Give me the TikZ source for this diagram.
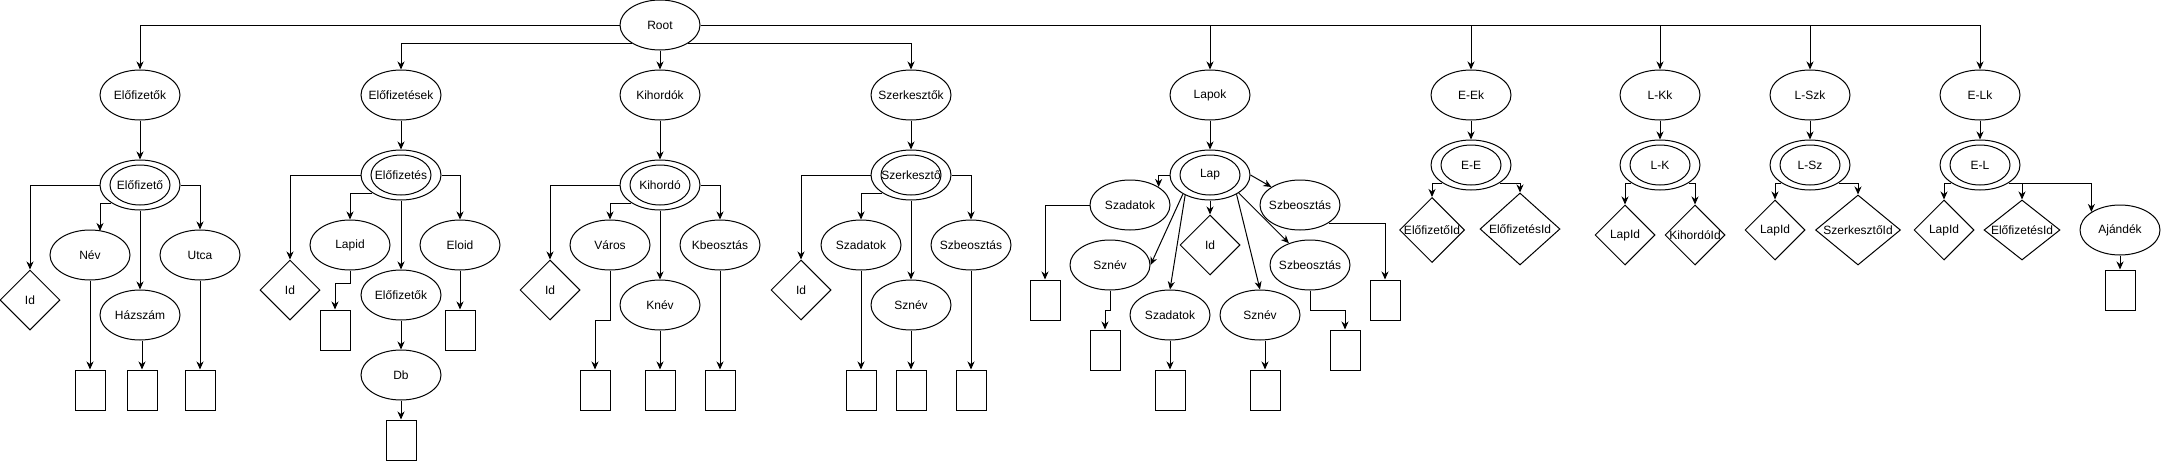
\documentclass[tikz,border=0pt]{standalone}
\usepackage{fontspec}
\setmainfont{Liberation Sans}
\usetikzlibrary{shapes.geometric,arrows.meta,calc}
\newcommand\zwt[1]{\makebox[0pt]{#1}}
\begin{document}
\begin{tikzpicture}[x=1pt,y=-1pt,font=\fontsize{12}{14}\selectfont,line width=1pt,
 ell/.style={ellipse,draw,minimum width=80pt,minimum height=50pt,inner sep=0pt},
 iell/.style={ellipse,draw,minimum width=60pt,minimum height=40pt,inner sep=0pt},
 dia/.style={diamond,draw,minimum width=60pt,minimum height=60pt,inner sep=0pt},
 rbox/.style={draw,minimum width=30pt,minimum height=40pt,inner sep=0pt},
 arr/.style={-{Stealth[length=8pt,width=7pt,inset=2.5pt]}}]
\useasboundingbox (0,0) rectangle (2161,461);
% root
\node[ell] (root) at (660,25) {\zwt{Root}};
% ---------- group 1
\node[ell] (n1) at (140,95) {\zwt{Előfizetők}};
\node[ell] (d1) at (140,185) {};
\node[iell] (d1i) at (140,185) {\zwt{Előfizető}};
\node[dia] (id1) at (30,300) {\zwt{Id}};
\node[ell] (nev1) at (90,255) {\zwt{Név}};
\node[ell] (haz1) at (140,315) {\zwt{Házszám}};
\node[ell] (utca1) at (200,255) {\zwt{Utca}};
\node[rbox] (r1a) at (90,390) {};
\node[rbox] (r1b) at (142,390) {};
\node[rbox] (r1c) at (200,390) {};
\coordinate (nev1t) at (100,231);
\draw[arr] (root.west) -| (n1);
\draw[arr] (n1) -- (d1);
\draw[arr] (d1.west) -| (id1);
\draw[arr] (d1.south west) -| (nev1t);
\draw[arr] (d1.south) -- (haz1.north);
\draw[arr] (d1.east) -| (utca1);
\draw[arr] (nev1) -- (r1a);
\draw[arr] (r1b.north |- haz1.south) -- (r1b.north);
\draw[arr] (utca1) -- (r1c);
% ---------- group 2
\node[ell] (n2) at (401,95) {\zwt{Előfizetések}};
\node[ell] (d2) at (401,175) {};
\node[iell] (d2i) at (401,175) {\zwt{Előfizetés}};
\node[dia] (id2) at (290,290) {\zwt{Id}};
\node[ell] (lapid2) at (350,245) {\zwt{Lapid}};
\node[ell] (eloid2) at (460,245) {\zwt{Eloid}};
\node[ell] (efk2) at (401,295) {\zwt{Előfizetők}};
\node[ell] (db2) at (401,375) {\zwt{Db}};
\node[rbox] (r2a) at (335,330) {};
\node[rbox] (r2b) at (460,330) {};
\node[rbox] (r2c) at (401,440) {};
\draw[arr] (root.213) -| (n2);
\draw[arr] (n2) -- (d2);
\draw[arr] (d2.west) -| (id2);
\draw[arr] (d2.south west) -| (lapid2);
\draw[arr] (d2.east) -| (eloid2);
\draw[arr] (d2) -- (efk2);
\draw[arr] (efk2) -- (db2);
\draw[arr] (db2) -- (r2c);
\draw[arr] (lapid2.south) -- ++(0,13) -| (r2a.north);
\draw[arr] (eloid2) -- (r2b);
% ---------- group 3
\node[ell] (n3) at (660,95) {\zwt{Kihordók}};
\node[ell] (d3) at (660,185) {};
\node[iell] (d3i) at (660,185) {\zwt{Kihordó}};
\node[dia] (id3) at (550,290) {\zwt{Id}};
\node[ell] (varos3) at (610,245) {\zwt{Város}};
\node[ell] (kbeo3) at (720,245) {\zwt{Kbeosztás}};
\node[ell] (knev3) at (660,305) {\zwt{Knév}};
\node[rbox] (r3a) at (595,390) {};
\node[rbox] (r3b) at (660,390) {};
\node[rbox] (r3c) at (720,390) {};
\draw[arr] (root) -- (n3);
\draw[arr] (n3) -- (d3);
\draw[arr] (d3.west) -| (id3);
\draw[arr] (d3.south west) -| (varos3);
\draw[arr] (d3.east) -| (kbeo3);
\draw[arr] (d3) -- (knev3);
\draw[arr] (varos3.south) -- ++(0,50) -| (r3a.north);
\draw[arr] (knev3) -- (r3b);
\draw[arr] (kbeo3) -- (r3c);
% ---------- group 4
\node[ell] (n4) at (911,95) {\zwt{Szerkesztők}};
\node[ell] (d4) at (911,175) {};
\node[iell] (d4i) at (911,175) {\zwt{Szerkesztő}};
\node[dia] (id4) at (801,290) {\zwt{Id}};
\node[ell] (szad4) at (861,245) {\zwt{Szadatok}};
\node[ell] (szbeo4) at (971,245) {\zwt{Szbeosztás}};
\node[ell] (sznev4) at (911,305) {\zwt{Sznév}};
\node[rbox] (r4a) at (861,390) {};
\node[rbox] (r4b) at (911,390) {};
\node[rbox] (r4c) at (971,390) {};
\draw[arr] (root.327) -| (n4);
\draw[arr] (n4) -- (d4);
\draw[arr] (d4.west) -| (id4);
\draw[arr] (d4.south west) -| (szad4);
\draw[arr] (d4.east) -| (szbeo4);
\draw[arr] (d4) -- (sznev4);
\draw[arr] (szad4) -- (r4a);
\draw[arr] (sznev4) -- (r4b);
\draw[arr] (szbeo4) -- (r4c);
% ---------- group 5
\node[ell] (n5) at (1210,95) {\zwt{Lapok}};
\node[ell] (d5) at (1210,175) {};
\node[iell] (d5i) at (1210,175) {\zwt{Lap}};
\node[ell] (szad5a) at (1130,205) {\zwt{Szadatok}};
\node[ell] (sznev5a) at (1110,265) {\zwt{Sznév}};
\node[ell] (szad5b) at (1170,315) {\zwt{Szadatok}};
\node[dia] (id5) at (1210,245) {\zwt{Id}};
\node[ell] (szbeo5a) at (1300,205) {\zwt{Szbeosztás}};
\node[ell] (szbeo5b) at (1310,265) {\zwt{Szbeosztás}};
\node[ell] (sznev5b) at (1260,315) {\zwt{Sznév}};
\node[rbox] (r5a) at (1045,300) {};
\node[rbox] (r5b) at (1105,350) {};
\node[rbox] (r5c) at (1170,390) {};
\node[rbox] (r5d) at (1265,390) {};
\node[rbox] (r5e) at (1345,350) {};
\node[rbox] (r5f) at (1385,300) {};
\draw[arr] (root.east) -| (n5);
\draw[arr] (n5) -- (d5);
\draw[arr] (d5.west) -| (szad5a.north east);
\draw[arr] (d5.215) -- (sznev5a.east);
\draw[arr] (d5.219) -- (szad5b.north);
\draw[arr] (d5.south) -- (id5.north);
\draw[arr] (d5.east) -- (szbeo5a.north west);
\draw[arr] (d5.328) -- (szbeo5b.134);
\draw[arr] (d5.324) -- (sznev5b.north);
\draw[arr] (szad5a.west) -| (r5a.north);
\draw[arr] (sznev5a.south) -- ++(0,20) -| (r5b.north);
\draw[arr] (szad5b) -- (r5c);
\draw[arr] (r5d.north |- sznev5b.south) -- (r5d.north);
\draw[arr] (szbeo5b.south) -- ++(0,20) -| (r5e.north);
\draw[arr] (szbeo5a.south east) -| (r5f.north);
% ---------- group 6
\node[ell] (n6) at (1471,95) {\zwt{E-Ek}};
\node[ell] (d6) at (1471,165) {};
\node[iell] (d6i) at (1471,165) {\zwt{E-E}};
\node[dia,minimum width=65pt,minimum height=65pt] (efi6) at (1432,230) {\zwt{ElőfizetőId}};
\node[dia,minimum width=80pt,minimum height=72pt] (esi6) at (1520,229) {\zwt{ElőfizetésId}};
\draw[arr] (root.east) -| (n6);
\draw[arr] (n6) -- (d6);
\draw[arr] (d6.south west) -| (efi6);
\draw[arr] (d6.south east) -| (esi6);
% ---------- group 7
\node[ell] (n7) at (1660,95) {\zwt{L-Kk}};
\node[ell] (d7) at (1660,165) {};
\node[iell] (d7i) at (1660,165) {\zwt{L-K}};
\node[dia] (lap7) at (1625,235) {\zwt{LapId}};
\node[dia] (kih7) at (1695,235) {\zwt{KihordóId}};
\draw[arr] (root.east) -| (n7);
\draw[arr] (n7) -- (d7);
\draw[arr] (d7.south west) -| (lap7);
\draw[arr] (d7.south east) -| (kih7);
% ---------- group 8
\node[ell] (n8) at (1810,95) {\zwt{L-Szk}};
\node[ell] (d8) at (1810,165) {};
\node[iell] (d8i) at (1810,165) {\zwt{L-Sz}};
\node[dia] (lap8) at (1775,230) {\zwt{LapId}};
\node[dia,minimum width=85pt,minimum height=70pt] (sze8) at (1858,230) {\zwt{SzerkesztőId}};
\draw[arr] (root.east) -| (n8);
\draw[arr] (n8) -- (d8);
\draw[arr] (d8.south west) -| (lap8);
\draw[arr] (d8.south east) -| (sze8);
% ---------- group 9
\node[ell] (n9) at (1980,95) {\zwt{E-Lk}};
\node[ell] (d9) at (1980,165) {};
\node[iell] (d9i) at (1980,165) {\zwt{E-L}};
\node[dia] (lap9) at (1944,230) {\zwt{LapId}};
\node[dia,minimum width=76pt,minimum height=60pt] (esi9) at (2022,230) {\zwt{ElőfizetésId}};
\node[ell] (aj9) at (2120,230) {\zwt{Ajándék}};
\node[rbox] (r9) at (2120,290) {};
\draw[arr] (root.east) -| (n9);
\draw[arr] (n9) -- (d9);
\draw[arr] (d9.south west) -| (lap9);
\draw[arr] (d9.south east) -| (esi9);
\draw[arr] (d9.south east) -| (aj9.north west);
\draw[arr] (aj9) -- (r9);
\end{tikzpicture}
\end{document}
